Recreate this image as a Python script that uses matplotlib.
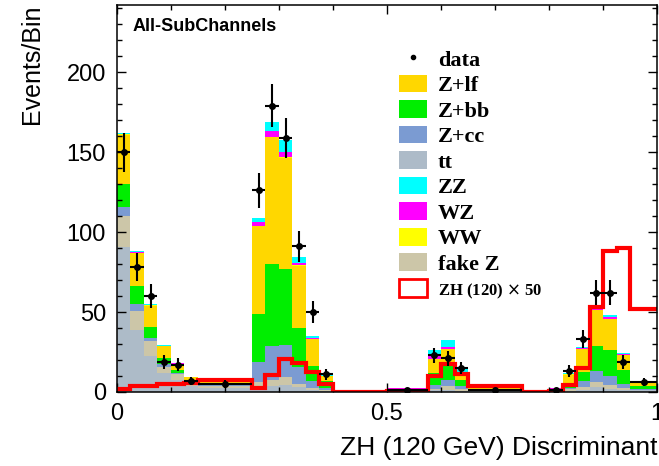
import numpy as np
import matplotlib.pyplot as plt
from matplotlib.patches import Patch
from matplotlib.lines import Line2D
from matplotlib.ticker import MultipleLocator

# variable binning of the discriminant
edges = [0, 0.025, 0.05, 0.075, 0.1, 0.125, 0.15, 0.25, 0.275, 0.3, 0.325, 0.35,
         0.375, 0.4, 0.5, 0.575, 0.6, 0.625, 0.65, 0.75, 0.8, 0.825, 0.85, 0.875,
         0.9, 0.925, 0.95, 1.0]

# background predictions per bin (stacked bottom -> top)
tt = [90.5, 39, 22.7, 11.9, 7.3, 3.5, 2.3, 2.5, 3.6, 4.2, 3.0, 1.5, 0.8, 0,
      0.5, 1.0, 1.5, 0.8, 0.8, 0, 0.5, 0.8, 1.5, 3.1, 2.0, 1.0, 1.0]
fakez = [19.5, 11.6, 9.0, 3.7, 3.7, 1.5, 1.5, 3.5, 3.7, 5.2, 2.2, 1.2, 0.5, 0,
         0.3, 1.0, 2.0, 0.8, 0.4, 0, 0.3, 0.8, 1.5, 3.2, 2.2, 1.2, 0.5]
zcc = [5.5, 4.6, 2.3, 2.1, 0.8, 0.5, 0.3, 12.5, 21.3, 20.2, 10.4, 4.0, 1.5, 0,
       0.3, 2.5, 3.7, 2.2, 0.4, 0, 0.2, 1.0, 3.7, 6.7, 5.6, 2.6, 0.5]
zbb = [14.5, 10.8, 6.6, 3.8, 2.2, 1.3, 1.8, 30.0, 51.6, 47.1, 24.4, 9.6, 4.0, 0,
       0.4, 7.3, 10.0, 3.5, 0.5, 0, 0.3, 3.3, 5.7, 15.8, 16.7, 8.8, 1.5]
zlf = [31.0, 21.0, 13.4, 7.3, 3.7, 2.5, 0.3, 55.0, 79.2, 69.8, 39.0, 16.7, 3.2, 0,
       0.3, 9.0, 9.6, 4.5, 0.3, 0, 0.8, 5.0, 14.6, 22.2, 19.1, 9.4, 2.5]
ww = [0.3, 0.2, 0.2, 0.1, 0.1, 0.1, 0.05, 0.3, 0.3, 0.3, 0.2, 0.1, 0.05, 0,
      0.05, 0.1, 0.1, 0.1, 0.05, 0, 0.05, 0.1, 0.2, 0.2, 0.2, 0.2, 0.1]
wz = [0.3, 0.3, 0.2, 0.1, 0.05, 0.05, 0.05, 2.3, 3.8, 3.2, 1.4, 0.8, 0.15, 0,
      0.4, 1.4, 1.1, 0.7, 0.1, 0, 0.05, 0.3, 0.3, 1.2, 1.0, 0.5, 0.1]
zz = [0.5, 0.8, 0.4, 0.2, 0.1, 0.05, 0.05, 2.4, 5.3, 7.7, 3.8, 1.1, 0.2, 0,
      0, 3.7, 4.7, 1.5, 0.1, 0, 0.05, 0.6, 0.5, 1.4, 1.4, 0.9, 0.1]

# observed events
data = [150, 78, 60, 19, 17, 7, 5, 126, 179, 159, 91, 50, 11, 0,
        1, 23, 21, 15, 1, 0, 1, 13, 33, 62, 62, 19, 6]

# ZH (120) signal scaled by 50
signal = [2, 3.5, 4, 4.8, 5, 5.5, 7.2, 2.7, 10.4, 20.8, 18, 12.5, 5.2, 0,
          0.5, 9.8, 17.7, 11, 3.5, 0, 0.5, 4.4, 14.8, 53, 88, 90, 52]

stack = [
    ('tt', tt, '#adbbc8'),
    ('fake Z', fakez, '#ccc6a8'),
    ('Z+cc', zcc, '#7b9bd2'),
    ('Z+bb', zbb, '#00ee00'),
    ('Z+lf', zlf, '#ffd700'),
    ('WW', ww, '#ffff00'),
    ('WZ', wz, '#ff00ff'),
    ('ZZ', zz, '#00ffff'),
]

edges = np.array(edges)
fig = plt.figure(figsize=(6.59, 4.66), dpi=100)
ax = fig.add_axes([0.1775, 0.1588, 0.8195, 0.8305])

bottom = np.zeros(len(edges) - 1)
for name, vals, col in stack:
    top = bottom + np.array(vals)
    ax.stairs(top, edges, baseline=bottom, fill=True, color=col, lw=0, zorder=1)
    bottom = top

ax.stairs(signal, edges, baseline=None, color='#ff0000', lw=3, zorder=2)

centers = 0.5 * (edges[1:] + edges[:-1])
halfw = 0.5 * (edges[1:] - edges[:-1])
data = np.array(data, dtype=float)
m = data > 0
ax.errorbar(centers[m], data[m], yerr=np.sqrt(data[m]), xerr=halfw[m],
            fmt='o', ms=4, color='black', elinewidth=1.5, capsize=0, zorder=3)

ax.set_xlim(0, 1)
ax.set_ylim(0, 242)
ax.xaxis.set_minor_locator(MultipleLocator(0.1))
ax.yaxis.set_major_locator(MultipleLocator(50))
ax.yaxis.set_minor_locator(MultipleLocator(10))
ax.set_xticks([0, 0.5, 1])
ax.set_xticklabels(['0', '0.5', '1'])
ax.tick_params(which='both', direction='in', top=True, right=True, width=1)
ax.tick_params(which='major', length=6.5, labelsize=17, pad=8)
ax.tick_params(which='minor', length=3.5)
for lab in ax.get_xticklabels() + ax.get_yticklabels():
    lab.set_family('Liberation Sans')
for sp in ax.spines.values():
    sp.set_linewidth(1.1)

ax.set_ylabel('Events/Bin', fontsize=18, family='Liberation Sans', loc='top', labelpad=16)
ax.set_xlabel('ZH (120 GeV) Discriminant', fontsize=19, family='Liberation Sans',
              loc='right', labelpad=8)

ax.text(0.028, 0.945, 'All-SubChannels', transform=ax.transAxes, fontsize=13,
        fontweight='bold', family='Liberation Sans', va='center', ha='left')

# legend
order = ['Z+lf', 'Z+bb', 'Z+cc', 'tt', 'ZZ', 'WZ', 'WW', 'fake Z']
colors = {name: col for name, vals, col in stack}
handles = [Line2D([], [], marker='o', ms=3, color='black', ls='none')]
labels = ['data']
for name in order:
    handles.append(Patch(facecolor=colors[name], edgecolor='none'))
    labels.append(name)
handles.append(Patch(facecolor='white', edgecolor='#ff0000', lw=2))
labels.append('ZH (120) $\\times$ 50')

leg = ax.legend(handles, labels, loc='upper left', bbox_to_anchor=(0.5015, 0.915),
                frameon=False, borderpad=0, handlelength=1.25, handleheight=0.85,
                handletextpad=0.5, labelspacing=0.18,
                prop={'family': 'Liberation Serif', 'weight': 'bold', 'size': 16})
leg.get_texts()[-1].set_fontsize(12)

fig.savefig('out.png', dpi=100)
